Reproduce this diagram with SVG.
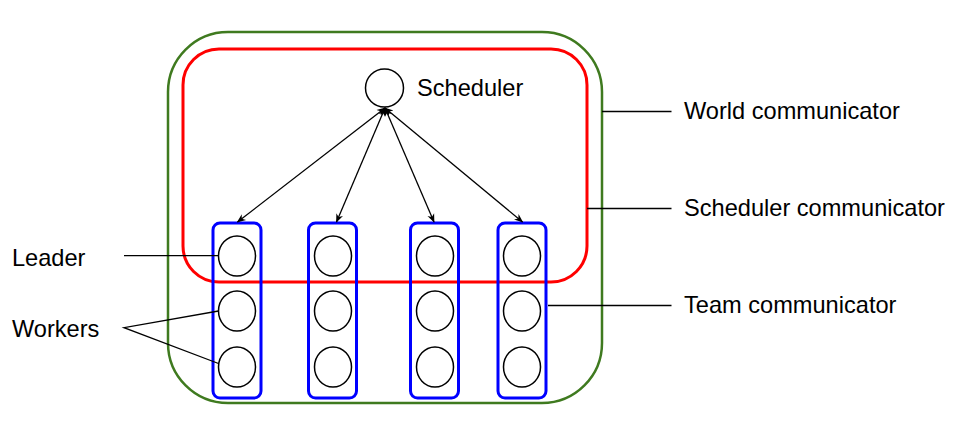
<svg xmlns="http://www.w3.org/2000/svg" width="969" height="436" viewBox="0 0 969 436">
<style>
text{font-family:"Liberation Sans",Arial,sans-serif;font-size:23.6px;fill:#000}
.team{fill:none;stroke:#0000ff;stroke-width:3}
.proc{fill:#fff;stroke:#000;stroke-width:1.5}
.ln{stroke:#000;stroke-width:1.3;fill:none}
</style>
<defs>
<marker id="ah" viewBox="0 0 10 10" refX="9" refY="5" markerWidth="9" markerHeight="9" markerUnits="userSpaceOnUse" orient="auto-start-reverse">
<path d="M0,1 L10,5 L0,9 L3,5 Z" fill="#000"/>
</marker>
</defs>
<rect fill="#fff" width="969" height="436"/>
<g id="world">
<rect x="168" y="32" width="434" height="371" rx="60" fill="none" stroke="#3f7a1f" stroke-width="2.5"/>
</g>
<g id="scheduler-comm">
<rect x="183" y="49" width="404" height="233" rx="36" fill="none" stroke="#ff0000" stroke-width="3"/>
</g>
<g id="scheduler">
<circle cx="384.5" cy="88" r="19" class="proc"/>
<text x="417" y="96">Scheduler</text>
</g>
<g id="team1">
<rect x="213" y="223" width="48" height="175" rx="7" class="team"/>
<ellipse cx="237" cy="256" rx="18.5" ry="20" class="proc"/>
<ellipse cx="237" cy="311" rx="18.5" ry="20" class="proc"/>
<ellipse cx="237" cy="367" rx="18.5" ry="20" class="proc"/>
</g>
<g id="team2">
<rect x="308.5" y="223" width="48" height="175" rx="7" class="team"/>
<ellipse cx="333" cy="256" rx="18.5" ry="20" class="proc"/>
<ellipse cx="333" cy="311" rx="18.5" ry="20" class="proc"/>
<ellipse cx="333" cy="367" rx="18.5" ry="20" class="proc"/>
</g>
<g id="team3">
<rect x="410.5" y="223" width="48" height="175" rx="7" class="team"/>
<ellipse cx="435" cy="256" rx="18.5" ry="20" class="proc"/>
<ellipse cx="435" cy="311" rx="18.5" ry="20" class="proc"/>
<ellipse cx="435" cy="367" rx="18.5" ry="20" class="proc"/>
</g>
<g id="team4">
<rect x="498" y="223" width="48" height="175" rx="7" class="team"/>
<ellipse cx="522" cy="256" rx="18.5" ry="20" class="proc"/>
<ellipse cx="522" cy="311" rx="18.5" ry="20" class="proc"/>
<ellipse cx="522" cy="367" rx="18.5" ry="20" class="proc"/>
</g>
<g id="connectors">
<line x1="385" y1="108" x2="237.5" y2="222" class="ln" marker-start="url(#ah)" marker-end="url(#ah)"/>
<line x1="385" y1="108" x2="336.5" y2="222" class="ln" marker-start="url(#ah)" marker-end="url(#ah)"/>
<line x1="385" y1="108" x2="434" y2="222" class="ln" marker-start="url(#ah)" marker-end="url(#ah)"/>
<line x1="385" y1="108" x2="522.5" y2="222" class="ln" marker-start="url(#ah)" marker-end="url(#ah)"/>
<line x1="602" y1="111.5" x2="671.5" y2="111.5" class="ln"/>
<line x1="587" y1="208.5" x2="671.5" y2="208.5" class="ln"/>
<line x1="548" y1="305.5" x2="671.5" y2="305.5" class="ln"/>
<line x1="124" y1="255.7" x2="218.5" y2="255.7" class="ln"/>
<polyline points="218.5,311 124,327.7 218.5,363.5" class="ln"/>
</g>
<g id="labels">
<text x="684" y="118.5">World communicator</text>
<text x="684" y="216">Scheduler communicator</text>
<text x="684" y="313">Team communicator</text>
<text x="12" y="266">Leader</text>
<text x="12" y="337">Workers</text>
</g>
</svg>
